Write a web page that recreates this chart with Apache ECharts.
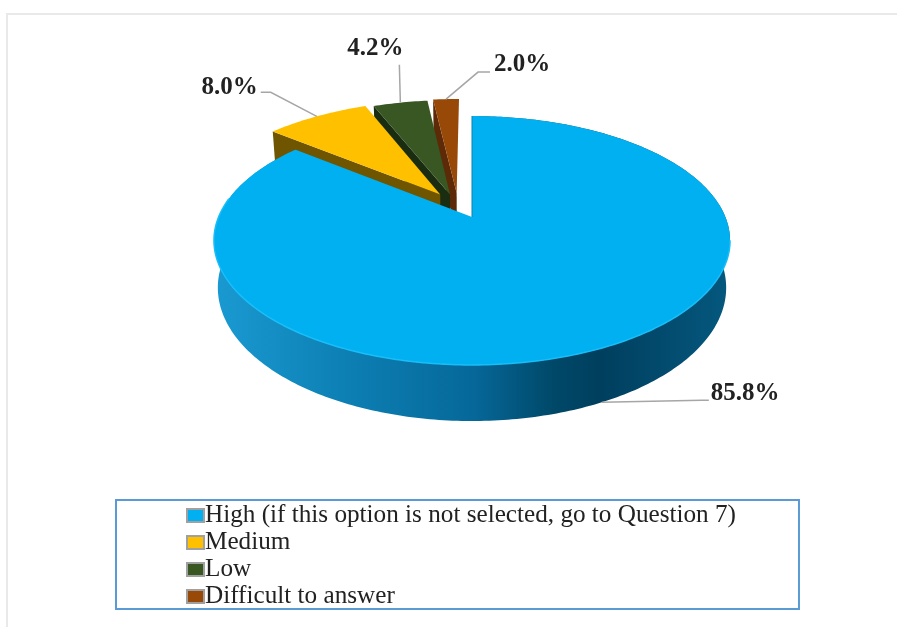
<!DOCTYPE html>
<html><head><meta charset="utf-8">
<style>html,body{margin:0;padding:0;background:#fff}#c{width:897px;height:627px}</style>
<script src="https://cdn.jsdelivr.net/npm/echarts@6/dist/echarts.min.js"></script>
</head><body><div id="c"></div>
<script>
var categories = ['High (if this option is not selected, go to Question 7)', 'Medium', 'Low', 'Difficult to answer'];
var shares = [85.8, 8.0, 4.2, 2.0];

var topColors = ['#00b0f0', '#ffc000', '#385723', '#984807'];
var wallColors = [null, '#705500', '#1b2d10', '#5c2a06'];
var explode = [[0, 0], [-0.13, 0.195], [-0.09, 0.195], [-0.063, 0.208]];
var leaders = [
  [[100, -2], [107, -2]],
  [[-46, -24], [-56, -24]],
  [[-1, -38], [-1, -38]],
  [[32, -27], [44, -27]]
];
var labelOffsets = [[109, -9], [-59, -29], [-53, -54], [48, -35]];
var labelAlign = ['left', 'right', 'left', 'left'];

var CX = 472, CY = 217, K = 253.4, S = 120, P = 0.1888, H = 45.5, SHRINK = 0.985;
function project(u, v, lowered) {
  var d = 1 + P * v;
  return [CX + K * u * (lowered ? SHRINK : 1) / d, CY + (-S * v + (lowered ? H : 0)) / d];
}
function startAngle(i) {
  var a = 0;
  for (var j = 0; j < i; j++) a += shares[j];
  return a / 100 * Math.PI * 2;
}
function rim(i, ang, lowered) {
  var e = explode[i];
  return project(Math.sin(ang) + e[0], Math.cos(ang) + e[1], lowered);
}
function arcPoints(i, a0, a1, lowered) {
  var out = [], n = Math.max(4, Math.ceil((a1 - a0) / 0.015));
  for (var k = 0; k <= n; k++) out.push(rim(i, a0 + (a1 - a0) * k / n, lowered));
  return out;
}
function renderSlice(i) {
  return function (params, api) {
    var value = api.value(0);
    var a0 = startAngle(i), a1 = a0 + value / 100 * Math.PI * 2, mid = (a0 + a1) / 2;
    var e = explode[i];
    var apex = project(e[0], e[1], false), apexLow = project(e[0], e[1], true);
    var base = i === 0 ? 10 : 5 - i;
    var children = [];
    if (i === 0) {
      var wall = arcPoints(0, a0, a1, false).concat(arcPoints(0, a0, a1, true).reverse());
      children.push({
        type: 'polygon', z2: base, shape: { points: wall },
        style: { fill: new echarts.graphic.LinearGradient(0, 0, 1, 0, [
          { offset: 0, color: '#1a9ad2' }, { offset: 0.25, color: '#0d80b4' },
          { offset: 0.5, color: '#06689a' }, { offset: 0.66, color: '#004868' },
          { offset: 0.75, color: '#003f5e' }, { offset: 1, color: '#05587f' }
        ]) }
      });
      children.push({
        type: 'polyline', z2: base + 2, shape: { points: [rim(0, a0, false), apex] },
        style: { stroke: '#0a80b2', lineWidth: 1, fill: null }
      });
    } else {
      var s0 = rim(i, a0, false), s1 = rim(i, a0, true);
      children.push({
        type: 'polygon', z2: base, shape: { points: [s0, apex, apexLow, s1] },
        style: { fill: wallColors[i] }
      });
    }
    var top = arcPoints(i, a0, a1, false);
    top.push(apex);
    children.push({
      type: 'polygon', z2: base + 1, shape: { points: top },
      style: { fill: topColors[i] }
    });
    if (i === 0) {
      children.push({
        type: 'polyline', z2: base + 2,
        shape: { points: arcPoints(0, Math.PI * 0.56, Math.PI * 1.55, false) },
        style: { stroke: '#19bdf8', lineWidth: 1.5, fill: null }
      });
    }
    var anchor = i === 0 ? rim(0, mid, true) : rim(i, mid, false);
    var pts = [anchor];
    leaders[i].forEach(function (o) { pts.push([anchor[0] + o[0], anchor[1] + o[1]]); });
    children.push({
      type: 'polyline', z2: 20, shape: { points: pts },
      style: { stroke: '#a6a6a6', lineWidth: 1.5, fill: null }
    });
    children.push({
      type: 'text', z2: 21,
      style: {
        text: value.toFixed(1) + '%',
        x: anchor[0] + labelOffsets[i][0], y: anchor[1] + labelOffsets[i][1],
        align: labelAlign[i], verticalAlign: 'middle',
        fill: '#222', font: 'bold 25px "Liberation Serif"'
      }
    });
    return { type: 'group', children: children };
  };
}

var chart = echarts.init(document.getElementById('c'), null, { renderer: 'canvas' });
chart.setOption({
  animation: false,
  backgroundColor: '#fff',
  graphic: [{
    type: 'polyline', silent: true,
    shape: { points: [[7, 627], [7, 14], [897, 14]] },
    style: { stroke: '#e9e9e9', lineWidth: 2, fill: null }
  }],
  legend: {
    orient: 'vertical', left: 116, top: 500,
    padding: [3, 63, 0, 70],
    borderColor: '#5b9bd5', borderWidth: 2,
    icon: 'rect',
    itemWidth: 17, itemHeight: 13, itemGap: 2,
    data: categories,
    textStyle: { fontFamily: '"Liberation Serif"', fontSize: 25.2, color: '#222', padding: [0, 0, 0, -4], lineHeight: 24 },
    selectedMode: false
  },
  series: categories.map(function (name, i) {
    return {
      type: 'custom', name: name, coordinateSystem: 'none', silent: true,
      renderItem: renderSlice(i),
      data: [[shares[i]]],
      itemStyle: { color: topColors[i], borderColor: '#a0a0a0', borderWidth: 3 }
    };
  })
});
</script></body></html>
